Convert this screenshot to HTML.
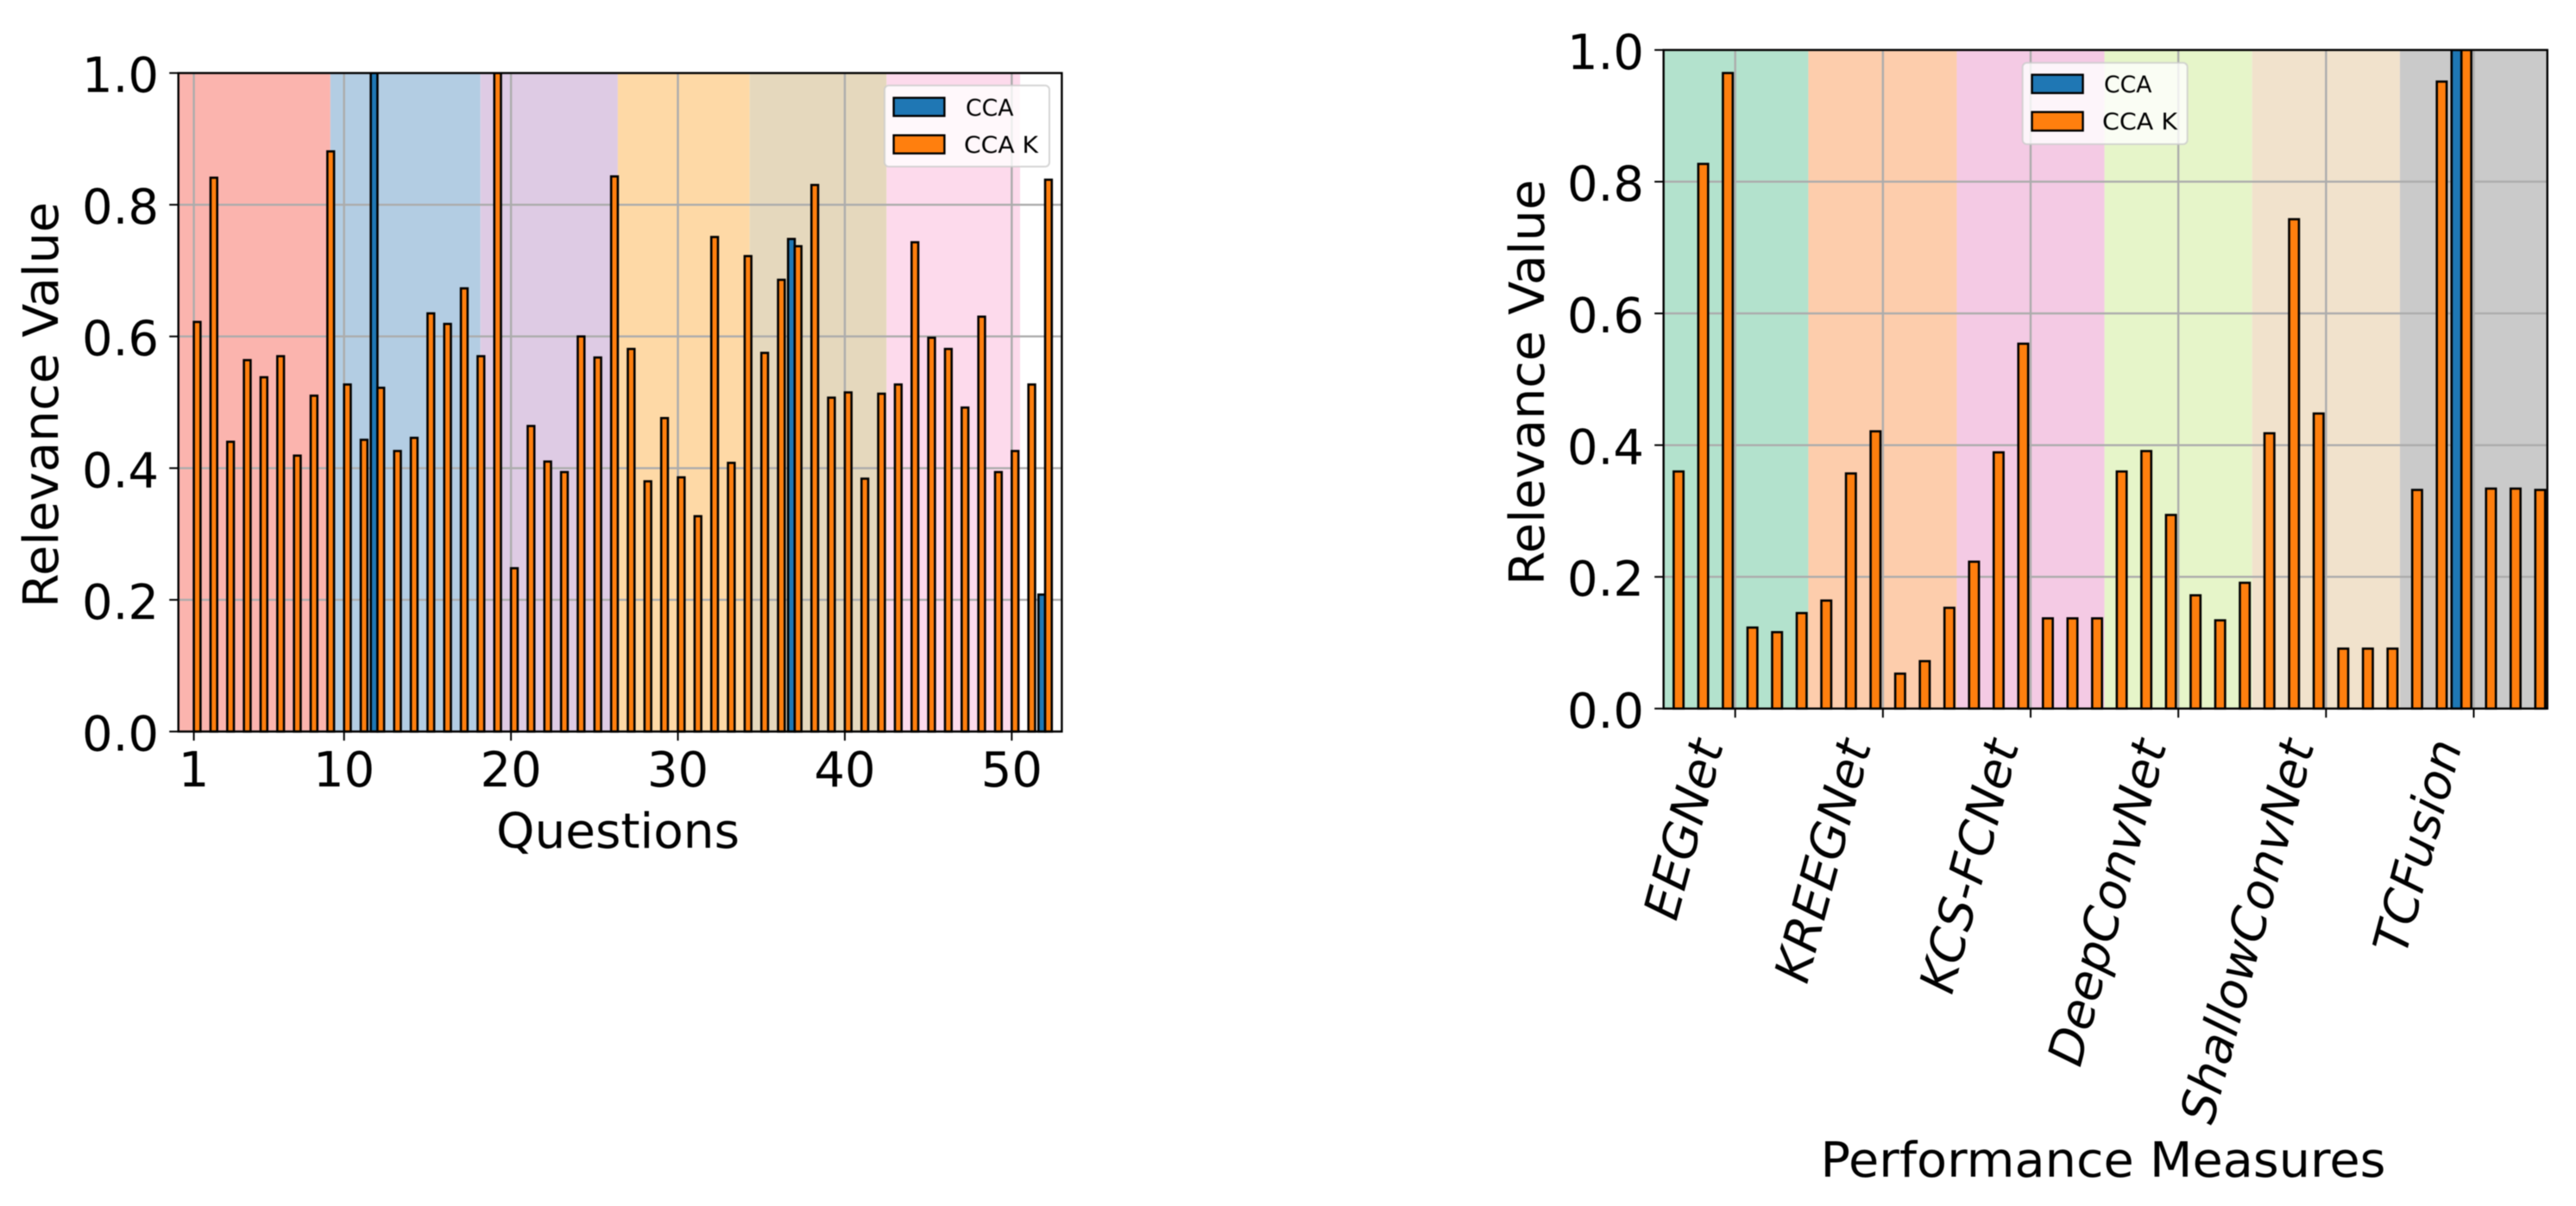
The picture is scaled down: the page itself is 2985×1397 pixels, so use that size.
<!DOCTYPE html>
<html lang="en">
<head>
<meta charset="utf-8">
<title>Relevance value charts</title>
<style>
  html, body { margin: 0; padding: 0; background: #fff; width: 2985px; height: 1397px; overflow: hidden; }
  svg { display: block; font-family: "DejaVu Sans", "Liberation Sans", sans-serif; fill: #000; filter: blur(0.6px); }
</style>
</head>
<body>
<svg id="figure" width="2985" height="1397" viewBox="0 0 2985 1397" xmlns="http://www.w3.org/2000/svg"></svg>
<script>
// ---------- Left chart data ----------
const questionCategories = [1,2,3,4,5,6,7,8,9,10,11,12,13,14,15,16,17,18,19,20,21,22,23,24,25,26,27,28,29,30,31,32,33,34,35,36,37,38,39,40,41,42,43,44,45,46,47,48,49,50,51,52];
const questionCcaValues = [0,0,0,0,0,0,0,0,0,0,0,1.0,0,0,0,0,0,0,0,0,0,0,0,0,0,0,0,0,0,0,0,0,0,0,0,0,0.748,0,0,0,0,0,0,0,0,0,0,0,0,0,0,0.208];
const questionCcaKValues = [0.622,0.841,0.44,0.564,0.538,0.57,0.419,0.51,0.881,0.527,0.443,0.522,0.426,0.446,0.635,0.619,0.673,0.57,1.0,0.248,0.464,0.41,0.394,0.6,0.568,0.843,0.581,0.38,0.476,0.386,0.327,0.751,0.408,0.722,0.575,0.686,0.737,0.83,0.507,0.515,0.384,0.513,0.527,0.743,0.598,0.581,0.492,0.63,0.394,0.426,0.527,0.838];
const questionXTicks = [1,10,20,30,40,50];
const questionBandEdges = [0.074,9.18,18.17,26.4,34.3,42.5,50.5];
const questionBandColors = ["#fbb4ae","#b3cde3","#decbe4","#fed9a6","#e5d8bd","#fddaec"];

// ---------- Right chart data ----------
const modelCategories = ["EEGNet","KREEGNet","KCS-FCNet","DeepConvNet","ShallowConvNet","TCFusion"];
const modelCategoryCenters = [3.5,9.5,15.5,21.5,27.5,33.5];
const measureIndex = [1,2,3,4,5,6,7,8,9,10,11,12,13,14,15,16,17,18,19,20,21,22,23,24,25,26,27,28,29,30,31,32,33,34,35,36];
const modelCcaValues = [0,0,0,0,0,0,0,0,0,0,0,0,0,0,0,0,0,0,0,0,0,0,0,0,0,0,0,0,0,0,0,0,1.0,0,0,0];
const modelCcaKValues = [0.36,0.827,0.965,0.123,0.116,0.145,0.164,0.357,0.421,0.053,0.072,0.153,0.223,0.389,0.554,0.137,0.137,0.137,0.36,0.391,0.294,0.172,0.134,0.191,0.418,0.743,0.448,0.091,0.091,0.091,0.332,0.952,1.0,0.334,0.334,0.332];
const modelBandEdges = [0.59,6.47,12.5,18.5,24.5,30.5,36.49];
const modelBandColors = ["#b3e2cd","#fdcdac","#f4cae4","#e6f5c9","#f1e2cc","#cacaca"];

// ---------- Shared ----------
const yTicks = [0,0.2,0.4,0.6,0.8,1.0];
const yTickLabels = ["0.0","0.2","0.4","0.6","0.8","1.0"];
const seriesNames = ["CCA","CCA K"];
const seriesColors = ["#1f77b4","#ff7f0e"];

const NS = "http://www.w3.org/2000/svg";
const svg = document.getElementById("figure");

function make(tag, attrs, parent, text) {
  const el = document.createElementNS(NS, tag);
  for (const k in attrs) el.setAttribute(k, attrs[k]);
  if (text !== undefined) el.textContent = text;
  parent.appendChild(el);
  return el;
}

function linear(d0, d1, r0, r1) {
  return function (v) { return r0 + (v - d0) * (r1 - r0) / (d1 - d0); };
}

function drawBands(g, edges, colors, x, top, bottom) {
  colors.forEach(function (c, i) {
    const r = make("rect", {x: x(edges[i]), y: top, width: x(edges[i + 1]) - x(edges[i]), height: bottom - top, fill: c}, g);
    
    
  });
}

function drawGrid(g, xVals, yVals, x, y, left, right, top, bottom) {
  xVals.forEach(function (v) {
    const l = make("line", {x1: x(v), x2: x(v), y1: top, y2: bottom, stroke: "#acacac", "stroke-width": 2.4}, g);
    
    
  });
  yVals.forEach(function (v) {
    const l = make("line", {x1: left, x2: right, y1: y(v), y2: y(v), stroke: "#acacac", "stroke-width": 2.4}, g);
    
    
  });
}

function drawBars(g, cats, values, offset, width, color, x, y, name) {
  values.forEach(function (v, i) {
    const x0 = x(cats[i] + offset - width / 2);
    const x1 = x(cats[i] + offset + width / 2);
    const r = make("rect", {x: x0, y: y(v), width: x1 - x0, height: y(0) - y(v), fill: color, stroke: "#000", "stroke-width": 2.6}, g);
    
    
  });
}

function drawFrame(g, left, right, top, bottom) {
  const f = make("rect", {x: left, y: top, width: right - left, height: bottom - top, fill: "none", stroke: "#000", "stroke-width": 2.4}, g);
  
  
}

function drawYAxis(g, y, left, textRight) {
  yTicks.forEach(function (v, i) {
    const t = make("line", {x1: left - 10.5, x2: left, y1: y(v), y2: y(v), stroke: "#000", "stroke-width": 2}, g);
    
    
    const lab = make("text", {x: textRight, y: y(v) + 22, "font-size": 56, "text-anchor": "end"}, g, yTickLabels[i]);
    
    
  });
}

function drawLegend(g, box, patchX, patchW, rows) {
  const b = make("rect", {x: box.x, y: box.y, width: box.w, height: box.h, rx: 5, fill: "#fff", "fill-opacity": 0.8, stroke: "#cccccc", "stroke-opacity": 0.8, "stroke-width": 2}, g);
  
  
  rows.forEach(function (row, i) {
    const p = make("rect", {x: patchX, y: row.py, width: patchW, height: row.ph, fill: seriesColors[i], stroke: "#000", "stroke-width": 2.4}, g);
    
    
    const t = make("text", {x: row.tx, y: row.ty, "font-size": 27, textLength: row.tl, lengthAdjust: "spacingAndGlyphs"}, g, seriesNames[i]);
    
    
  });
}

function addClip(id, left, right, top, bottom) {
  const c = make("clipPath", {id: id}, svg);
  make("rect", {x: left, y: top, width: right - left, height: bottom - top}, c);
}

// ---------- Left chart ----------
(function () {
  const L = 206.7, R = 1230.4, T = 84.6, B = 847.4;
  const x = linear(0.074, 53.0, L, R);
  const y = linear(0, 1, B, T);
  addClip("clip-left", L, R, T, B + 2);
  const g = make("g", {}, svg);
  
  
  const plot = make("g", {"clip-path": "url(#clip-left)"}, g);
  
  
  drawBands(plot, questionBandEdges, questionBandColors, x, T, B);
  drawGrid(plot, questionXTicks, yTicks, x, y, L, R, T, B);
  drawBars(plot, questionCategories, questionCcaValues, -0.2, 0.4, seriesColors[0], x, y, 'cca-bar');
  drawBars(plot, questionCategories, questionCcaKValues, 0.2, 0.4, seriesColors[1], x, y, 'cca-k-bar');
  drawFrame(g, L, R, T, B);
  drawYAxis(g, y, L, 184);
  questionXTicks.forEach(function (v) {
    const t = make("line", {x1: x(v), x2: x(v), y1: B, y2: B + 10.5, stroke: "#000", "stroke-width": 2}, g);
    
    
    const lab = make("text", {x: x(v), y: 911, "font-size": 56, "text-anchor": "middle"}, g, String(v));
    
    
  });
  const xt = make("text", {x: 716, y: 982, "font-size": 56, "text-anchor": "middle", textLength: 282, lengthAdjust: "spacingAndGlyphs"}, g, "Questions");
  
  
  const yt = make("text", {transform: "translate(67,469) rotate(-90)", "font-size": 56, "text-anchor": "middle", textLength: 470, lengthAdjust: "spacingAndGlyphs"}, g, "Relevance Value");
  
  
  drawLegend(g, {x: 1025, y: 99, w: 191, h: 94}, 1035.6, 58.8, [
    {py: 113.3, ph: 21, tx: 1119, ty: 134, tl: 55.5},
    {py: 156.7, ph: 21, tx: 1117, ty: 177, tl: 86}
  ]);
})();

// ---------- Right chart ----------
(function () {
  const L = 1927.7, R = 2951.8, T = 57.9, B = 820.8;
  const x = linear(0.59, 36.49, L, R);
  const y = linear(0, 1, B, T);
  addClip("clip-right", L, R, T, B + 2);
  const g = make("g", {}, svg);
  
  
  const plot = make("g", {"clip-path": "url(#clip-right)"}, g);
  
  
  drawBands(plot, modelBandEdges, modelBandColors, x, T, B);
  drawGrid(plot, modelCategoryCenters, yTicks, x, y, L, R, T, B);
  drawBars(plot, measureIndex, modelCcaValues, -0.2, 0.4, seriesColors[0], x, y, 'cca-bar');
  drawBars(plot, measureIndex, modelCcaKValues, 0.2, 0.4, seriesColors[1], x, y, 'cca-k-bar');
  drawFrame(g, L, R, T, B);
  drawYAxis(g, y, L, 1905);
  modelCategoryCenters.forEach(function (v, i) {
    const t = make("line", {x1: x(v), x2: x(v), y1: B, y2: B + 10.5, stroke: "#000", "stroke-width": 2}, g);
    
    
    const ax = x(v) - 13.5;
    const lab = make("text", {transform: "translate(" + ax + ",863) rotate(-75)", "font-size": 56, "font-style": "italic", "text-anchor": "end"}, g, modelCategories[i]);
    
    
  });
  const xt = make("text", {x: 2437, y: 1363, "font-size": 56, "text-anchor": "middle", textLength: 655, lengthAdjust: "spacingAndGlyphs"}, g, "Performance Measures");
  
  
  const yt = make("text", {transform: "translate(1789,443) rotate(-90)", "font-size": 56, "text-anchor": "middle", textLength: 470, lengthAdjust: "spacingAndGlyphs"}, g, "Relevance Value");
  
  
  drawLegend(g, {x: 2343.7, y: 72.8, w: 191, h: 94.2}, 2354.6, 59, [
    {py: 86.6, ph: 21.2, tx: 2438, ty: 107, tl: 55.5},
    {py: 129.8, ph: 21.5, tx: 2436, ty: 150, tl: 87}
  ]);
})();
</script>
</body>
</html>
